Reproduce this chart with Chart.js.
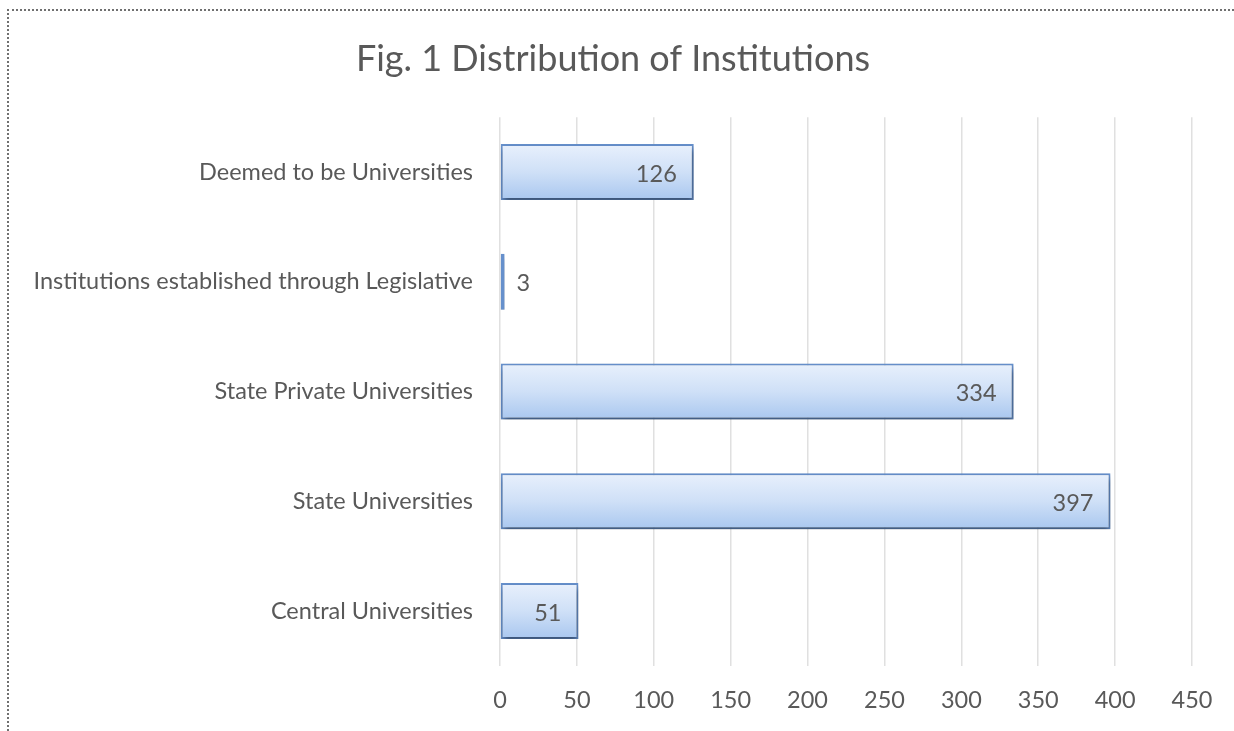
<!DOCTYPE html>
<html>
<head>
<meta charset="utf-8">
<script src="https://cdn.jsdelivr.net/npm/chart.js@4/dist/chart.umd.min.js"></script>
<style>
  html, body { margin: 0; padding: 0; background: #fff; overflow: hidden; }
  #wrap { position: relative; width: 1234px; height: 731px; overflow: hidden; }
  #myChart { display: block; }
  .edge { position: absolute; pointer-events: none; }
  #edgeTop { left: 7px; top: 9px; width: 1227px; height: 0; border-top: 2px dotted #707070; }
  #edgeLeft { left: 7px; top: 9px; width: 0; height: 722px; border-left: 2px dotted #707070; }
</style>
</head>
<body>
<div id="wrap">
  <canvas id="myChart" width="1234" height="731"></canvas>
  <div class="edge" id="edgeTop"></div>
  <div class="edge" id="edgeLeft"></div>
</div>
<script>
// Fig. 1 Distribution of Institutions

const categories = [
    'Deemed to be Universities',
    'Institutions established through Legislative',
    'State Private Universities',
    'State Universities',
    'Central Universities'
];
const counts = [126, 3, 334, 397, 51];
const xTicks = [0, 50, 100, 150, 200, 250, 300, 350, 400, 450];

const textColor = '#595959';
const fontFamily = 'Lato, "Open Sans", sans-serif';
const labelSize = 23.5;

// vertical gradient for each bar, worked out from the y scale
function barFill(context){
    const chart = context.chart;
    const yScale = chart.scales.y;
    if (!chart.chartArea || !yScale) return '#c3d8f4';
    const center = yScale.getPixelForValue(context.dataIndex);
    const half = 28;
    const g = chart.ctx.createLinearGradient(0, center - half, 0, center + half);
    g.addColorStop(0, '#e8f0fc');
    g.addColorStop(0.5, '#cfe0f7');
    g.addColorStop(1, '#a9c7ef');
    return g;
}

// soft drop shadow under the bars
const barShadow = {
    id: 'barShadow',
    beforeDatasetDraw(chart){
        const ctx = chart.ctx;
        ctx.save();
        ctx.shadowColor = 'rgba(0,0,0,0.45)';
        ctx.shadowBlur = 6;
        ctx.shadowOffsetX = 1;
        ctx.shadowOffsetY = 4;
    },
    afterDatasetDraw(chart){
        chart.ctx.restore();
    }
};

// value labels: inside the bar end, or just outside if the bar is too short
const valueLabels = {
    id: 'valueLabels',
    afterDatasetsDraw(chart){
        const ctx = chart.ctx;
        const meta = chart.getDatasetMeta(0);
        ctx.save();
        ctx.font = labelSize + 'px ' + fontFamily;
        ctx.fillStyle = textColor;
        ctx.textBaseline = 'middle';
        meta.data.forEach((bar, i) => {
            const text = String(counts[i]);
            const w = ctx.measureText(text).width;
            const barLen = bar.x - bar.base;
            if (barLen > w + 24) {
                ctx.textAlign = 'right';
                ctx.fillText(text, bar.x - 17, bar.y + 2);
            } else {
                ctx.textAlign = 'left';
                ctx.fillText(text, bar.x + 12, bar.y + 2);
            }
        });
        ctx.restore();
    }
};

const ctx = document.getElementById('myChart').getContext('2d');

const myChart = new Chart(ctx, {
    type: 'bar',
    data: {
        labels: categories,
        datasets: [{
            label: 'Institutions',
            data: counts,
            backgroundColor: barFill,
            borderColor: '#6690cc',
            borderWidth: 2,
            borderSkipped: false,
            categoryPercentage: 1,
            barPercentage: 0.51
        }]
    },
    options: {
        indexAxis: 'y',
        responsive: false,
        animation: false,
        layout: {
            padding: {left: 34, right: 42, top: 0, bottom: -5}
        },
        scales: {
            x: {
                min: 0,
                max: 450,
                afterBuildTicks: function (scale){
                    scale.ticks = xTicks.map(v => ({value: v}));
                },
                grid: {color: '#e0e0e0', lineWidth: 1.5, drawTicks: false},
                border: {display: false},
                ticks: {
                    color: textColor,
                    font: {size: labelSize, family: fontFamily},
                    padding: 21,
                    maxRotation: 0
                }
            },
            y: {
                grid: {display: false, drawTicks: false},
                border: {display: false},
                afterFit: function (scale){
                    scale.width = 466;
                },
                ticks: {
                    color: textColor,
                    font: {size: labelSize, family: fontFamily},
                    padding: 27
                }
            }
        },
        plugins: {
            legend: {display: false},
            tooltip: {enabled: false},
            title: {
                display: true,
                text: 'Fig. 1 Distribution of Institutions',
                color: textColor,
                font: {size: 36, family: fontFamily, weight: 'normal'},
                padding: {top: 38, bottom: 36}
            }
        }
    },
    plugins: [barShadow, valueLabels]
});
</script>
</body>
</html>
